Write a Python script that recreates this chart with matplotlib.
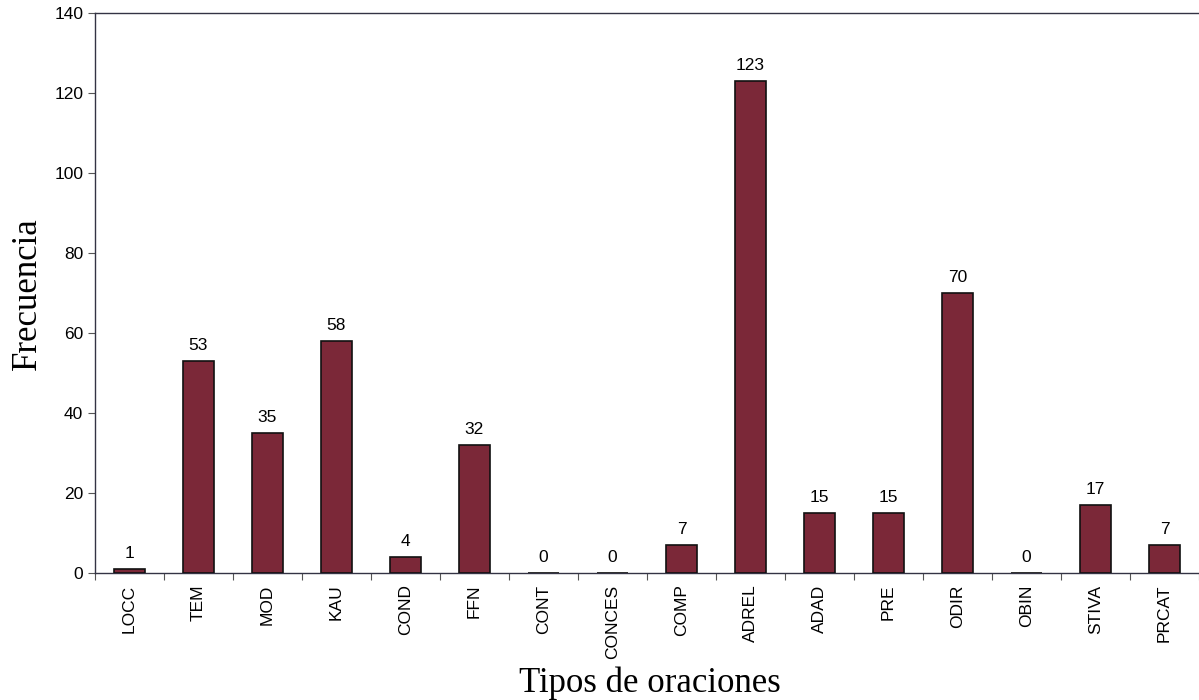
import numpy as np
import matplotlib
matplotlib.use("Agg")
import matplotlib.pyplot as plt

# -----------------------------
# Data
# -----------------------------

categorias = ["LOCC", "TEM", "MOD", "KAU", "COND", "FFN", "CONT", "CONCES",
              "COMP", "ADREL", "ADAD", "PRE", "ODIR", "OBIN", "STIVA", "PRCAT"]
frecuencia = [1, 53, 35, 58, 4, 32, 0, 0, 7, 123, 15, 15, 70, 0, 17, 7]

y_ticks = [0, 20, 40, 60, 80, 100, 120, 140]

# -----------------------------
# Plot
# -----------------------------

fig = plt.figure(figsize=(11.99, 7.0), dpi=100)
ax = fig.add_axes([0.0792, 0.181, 0.9208, 0.800])

x = np.arange(len(categorias))
bars = ax.bar(x, frecuencia, width=0.44, color="#7b2838",
              edgecolor="#111111", linewidth=1.2, zorder=3)

for xi, v in zip(x, frecuencia):
    ax.annotate(str(v), (xi, v), xytext=(0, 6), textcoords="offset points",
                ha="center", va="bottom", fontsize=12.5,
                family="Liberation Sans")

ax.set_xlim(-0.5, len(categorias) - 0.5)
ax.set_ylim(0, 140)
ax.set_yticks(y_ticks)
ax.set_yticklabels([str(t) for t in y_ticks], family="Liberation Sans",
                   fontsize=12.5)

# category labels at the centers, tick marks between categories
ax.set_xticks(x)
ax.set_xticklabels(categorias, rotation=90, family="Liberation Sans",
                   fontsize=12.5)
ax.tick_params(axis="x", length=0, pad=8)
ax.set_xticks(np.arange(-0.5, len(categorias), 1.0), minor=True)
ax.tick_params(axis="x", which="minor", length=5, width=0.8,
               color="#555555")
ax.tick_params(axis="y", length=5, width=0.8, color="#555555")

ax.spines["right"].set_visible(False)
for s in ["left", "top", "bottom"]:
    ax.spines[s].set_linewidth(1.0)
    ax.spines[s].set_color("#333344")

ax.set_ylabel("Frecuencia", family="Liberation Serif", fontsize=25,
              labelpad=7)
fig.text(0.542, 0.024, "Tipos de oraciones", family="Liberation Serif",
         fontsize=25, ha="center", va="center")

fig.savefig("out.png", dpi=100)
